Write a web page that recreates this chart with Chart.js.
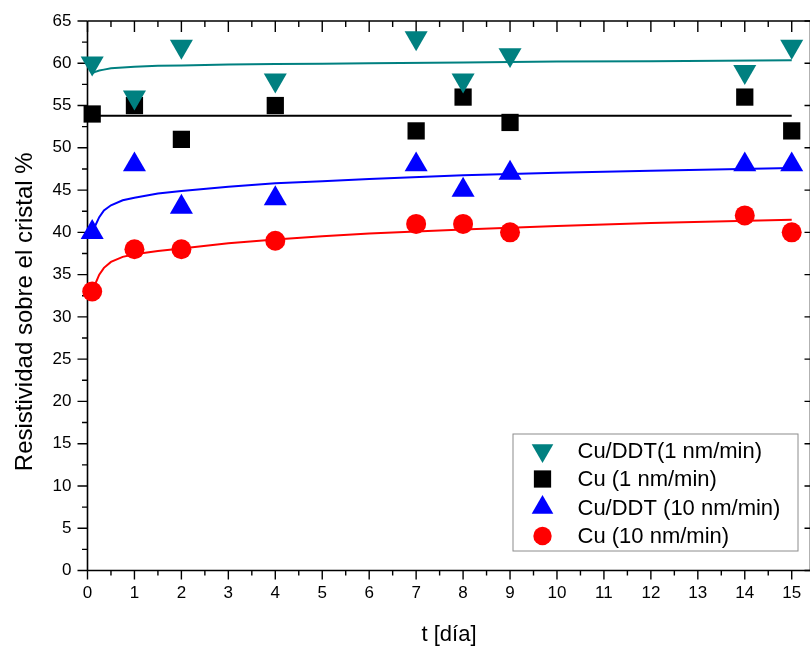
<!DOCTYPE html>
<html>
<head>
<meta charset="utf-8">
<script src="https://cdn.jsdelivr.net/npm/chart.js@4.4.1/dist/chart.umd.min.js"></script>
<style>
  html, body { margin: 0; padding: 0; background: #fff; overflow: hidden; }
  canvas { display: block; }
</style>
</head>
<body>
<canvas id="resChart" width="812" height="646" style="width:812px;height:646px"></canvas>
<script>
// measured days and resistivity values (%)
const days = [0.1, 1, 2, 4, 7, 8, 9, 14, 15];
const cuDdt1 = [60, 56, 62, 58, 63, 58, 61, 59, 62];
const cu1 = [54, 55, 51, 55, 52, 56, 53, 56, 52];
const cuDdt10 = [40, 48, 43, 44, 48, 45, 47, 48, 48];
const cu10 = [33, 38, 38, 39, 41, 41, 40, 42, 40];

// fit curves
const fitDays = [0.1, 0.15, 0.25, 0.35, 0.5, 0.75, 1, 1.5, 2, 3, 4, 5, 6, 8, 10, 12, 15];
const fitCuDdt1 = [58.8, 58.95, 59.15, 59.25, 59.4, 59.5, 59.6, 59.7, 59.75, 59.85, 59.9, 59.95, 60.0, 60.1, 60.2, 60.25, 60.35];
const fitCuDdt10 = [40.0, 40.6, 41.8, 42.6, 43.2, 43.8, 44.1, 44.6, 44.9, 45.4, 45.8, 46.05, 46.3, 46.75, 47.05, 47.3, 47.6];
const fitCu10 = [33.0, 33.7, 35.0, 35.8, 36.5, 37.1, 37.4, 37.8, 38.1, 38.7, 39.15, 39.55, 39.85, 40.35, 40.75, 41.1, 41.5];
const fitCu1Days = [0, 15];
const fitCu1 = [53.8, 53.8];

const dayTicks = [0, 1, 2, 3, 4, 5, 6, 7, 8, 9, 10, 11, 12, 13, 14, 15];
const pctTicks = [0, 5, 10, 15, 20, 25, 30, 35, 40, 45, 50, 55, 60, 65];

const seriesNames = ["Cu/DDT(1 nm/min)", "Cu (1 nm/min)", "Cu/DDT (10 nm/min)", "Cu (10 nm/min)"];
const yTitle = "Resistividad sobre el cristal %";

const TEAL = "#008080", BLUE = "#0000ff", RED = "#ff0000", BLACK = "#000000";
const FONT = "'Liberation Sans', Arial, sans-serif";

const pts = (xs, ys) => xs.map((x, i) => ({ x: x, y: ys[i] }));

const fitLine = (xs, ys, color) => ({
  data: pts(xs, ys),
  showLine: true,
  borderColor: color,
  borderWidth: 2,
  pointRadius: 0,
  tension: 0,
  order: 10
});

const markers = (ys, color, style, r, rot, ord) => ({
  data: pts(days, ys),
  showLine: false,
  backgroundColor: color,
  borderColor: color,
  borderWidth: 0,
  pointStyle: style,
  pointRadius: r,
  pointRotation: rot,
  order: ord
});

// legend entries (marker look)
const legendItems = [
  { style: "triangle", rot: 180, r: 12.5, color: TEAL },
  { style: "rect", rot: 0, r: 12.2, color: BLACK },
  { style: "triangle", rot: 0, r: 12.5, color: BLUE },
  { style: "circle", rot: 0, r: 9.2, color: RED }
];

// frame + ticks in Origin style, x tick labels, legend box, y title
const framePlugin = {
  id: "frame",
  beforeDatasetsDraw(chart) {
    const { ctx, chartArea: a, scales } = chart;
    const xs = scales.x, ys = scales.y;
    ctx.save();
    ctx.strokeStyle = "#000";
    ctx.lineWidth = 1.6;
    ctx.beginPath();
    ctx.moveTo(a.left, a.top); ctx.lineTo(a.right, a.top);
    ctx.moveTo(a.left, a.bottom); ctx.lineTo(a.right, a.bottom);
    ctx.moveTo(a.left, a.top); ctx.lineTo(a.left, a.bottom);
    ctx.moveTo(a.right, a.top); ctx.lineTo(a.right, a.bottom);
    ctx.stroke();
    ctx.lineWidth = 1.4;
    ctx.beginPath();
    for (let v = 0; v <= 15; v += 0.5) {
      const px = xs.getPixelForValue(v);
      const major = v % 1 === 0;
      ctx.moveTo(px, a.bottom); ctx.lineTo(px, a.bottom + (major ? 9 : 5));
      ctx.moveTo(px, a.top); ctx.lineTo(px, a.top + (major ? 11 : 6));
    }
    for (let v = 0; v <= 65; v += 2.5) {
      const py = ys.getPixelForValue(v);
      const major = v % 5 === 0;
      ctx.moveTo(a.left, py); ctx.lineTo(a.left - (major ? 10 : 5.5), py);
      if (major) { ctx.moveTo(a.right, py); ctx.lineTo(a.right - 6, py); }
    }
    ctx.stroke();

    // x tick labels
    ctx.fillStyle = "#000";
    ctx.font = "17px " + FONT;
    ctx.textAlign = "center";
    ctx.textBaseline = "middle";
    dayTicks.forEach(v => ctx.fillText(String(v), xs.getPixelForValue(v), a.bottom + 23));

    // rotated y title, sits a bit below the axis centre like the original
    ctx.font = "24px " + FONT;
    ctx.translate(25, (a.top + a.bottom) / 2 + 16);
    ctx.rotate(-Math.PI / 2);
    ctx.fillText(yTitle, 0, 0);
    ctx.restore();
  },
  afterDraw(chart) {
    const { ctx, chartArea: a } = chart;
    const boxR = a.right - 13, boxB = a.bottom - 20;
    const boxL = boxR - 285, boxT = boxB - 117;
    ctx.save();
    ctx.fillStyle = "#fff";
    ctx.fillRect(boxL, boxT, boxR - boxL, boxB - boxT);
    ctx.strokeStyle = "#8c8c8c";
    ctx.lineWidth = 1;
    ctx.strokeRect(boxL + 0.5, boxT + 0.5, boxR - boxL, boxB - boxT);
    ctx.font = "22px " + FONT;
    ctx.textBaseline = "middle";
    ctx.textAlign = "left";
    legendItems.forEach((it, i) => {
      const y = boxT + 17 + i * 28.5;
      ctx.fillStyle = it.color;
      ctx.strokeStyle = it.color;
      Chart.helpers.drawPoint(ctx, { pointStyle: it.style, radius: it.r, rotation: it.rot, borderWidth: 0 }, boxL + 30, y);
      ctx.fillStyle = "#000";
      ctx.fillText(seriesNames[i], boxL + 65, y + 1);
    });
    ctx.restore();
  }
};

new Chart(document.getElementById("resChart"), {
  type: "scatter",
  data: {
    datasets: [
      fitLine(fitDays, fitCuDdt1, TEAL),
      fitLine(fitCu1Days, fitCu1, BLACK),
      fitLine(fitDays, fitCuDdt10, BLUE),
      fitLine(fitDays, fitCu10, RED),
      markers(cuDdt1, TEAL, "triangle", 13.3, 180, 1),
      markers(cu1, BLACK, "rect", 12.2, 0, 2),
      markers(cuDdt10, BLUE, "triangle", 13.3, 0, 3),
      markers(cu10, RED, "circle", 10, 0, 4)
    ]
  },
  options: {
    responsive: false,
    animation: false,
    layout: { autoPadding: false, padding: { top: 21, right: 1.5, left: 0, bottom: 0 } },
    clip: false,
    plugins: {
      legend: { display: false },
      tooltip: { enabled: false }
    },
    scales: {
      x: {
        type: "linear",
        min: 0,
        max: 15.4,
        afterBuildTicks: (s) => { s.ticks = dayTicks.map(v => ({ value: v })); },
        afterFit: (s) => { s.height = 75.5; s.paddingLeft = 0; s.paddingRight = 0; },
        grid: { display: false, drawTicks: false },
        border: { display: false },
        ticks: { display: false },
        title: { display: true, text: "t [día]", color: "#000", padding: { top: 0, bottom: 0.5 }, font: { family: FONT, size: 22, lineHeight: 1 } }
      },
      y: {
        type: "linear",
        min: 0,
        max: 65,
        afterBuildTicks: (s) => { s.ticks = pctTicks.map(v => ({ value: v })); },
        afterFit: (s) => { s.width = 87.5; s.paddingTop = 0; s.paddingBottom = 0; },
        grid: { display: false, drawTicks: false },
        border: { display: false },
        ticks: { color: "#000", padding: 16, autoSkip: false, font: { family: FONT, size: 17 } }
      }
    }
  },
  plugins: [framePlugin]
});
</script>
</body>
</html>
